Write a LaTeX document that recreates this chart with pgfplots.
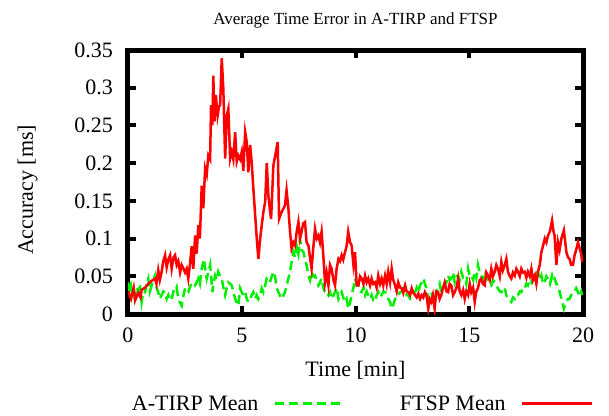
\documentclass[border=0pt]{standalone}
\usepackage{fontspec}
\setmainfont{Liberation Serif}
\usepackage{pgfplots}
\pgfplotsset{compat=1.18}
\definecolor{gnured}{RGB}{255,0,0}
\definecolor{gnugreen}{RGB}{0,238,0}
\pgfplotstableread{
t v
0.00 0.030
0.13 0.020
0.25 0.035
0.31 0.018
0.45 0.028
0.55 0.022
0.60 0.032
0.75 0.035
0.89 0.040
1.04 0.044
1.19 0.047
1.25 0.040
1.33 0.058
1.40 0.045
1.48 0.056
1.55 0.070
1.63 0.078
1.70 0.062
1.77 0.072
1.85 0.078
1.92 0.060
2.00 0.075
2.07 0.078
2.14 0.065
2.21 0.070
2.29 0.055
2.36 0.065
2.44 0.060
2.51 0.055
2.58 0.060
2.65 0.047
2.72 0.065
2.80 0.090
2.87 0.060
2.95 0.104
3.02 0.080
3.09 0.118
3.16 0.100
3.24 0.170
3.31 0.140
3.39 0.193
3.46 0.185
3.53 0.210
3.61 0.205
3.65 0.277
3.71 0.250
3.75 0.316
3.80 0.255
3.86 0.290
3.94 0.263
4.00 0.275
4.05 0.277
4.12 0.339
4.19 0.299
4.27 0.206
4.34 0.263
4.41 0.272
4.49 0.206
4.56 0.215
4.63 0.205
4.71 0.241
4.78 0.202
4.85 0.210
4.93 0.205
5.00 0.215
5.07 0.190
5.15 0.241
5.22 0.228
5.29 0.188
5.37 0.224
5.44 0.200
5.51 0.166
5.59 0.131
5.66 0.100
5.73 0.073
5.81 0.100
5.88 0.118
5.95 0.135
6.03 0.149
6.10 0.200
6.17 0.157
6.23 0.140
6.29 0.126
6.39 0.197
6.47 0.210
6.58 0.228
6.64 0.126
6.75 0.135
6.90 0.144
6.97 0.164
7.05 0.140
7.12 0.110
7.19 0.087
7.27 0.095
7.34 0.091
7.42 0.110
7.49 0.122
7.56 0.100
7.63 0.109
7.70 0.120
7.78 0.122
7.85 0.095
7.93 0.091
8.00 0.075
8.07 0.060
8.15 0.090
8.22 0.113
8.30 0.100
8.37 0.104
8.44 0.095
8.51 0.109
8.58 0.080
8.66 0.042
8.73 0.055
8.81 0.038
8.88 0.065
8.95 0.060
9.03 0.045
9.10 0.038
9.17 0.060
9.25 0.073
9.32 0.070
9.39 0.078
9.46 0.072
9.54 0.082
9.61 0.090
9.68 0.109
9.76 0.095
9.83 0.091
9.91 0.065
9.98 0.082
10.05 0.038
10.13 0.038
10.20 0.050
10.27 0.047
10.35 0.040
10.42 0.051
10.49 0.042
10.56 0.047
10.64 0.038
10.71 0.047
10.78 0.040
10.86 0.042
10.93 0.035
11.00 0.051
11.08 0.040
11.15 0.047
11.22 0.038
11.30 0.051
11.37 0.040
11.44 0.056
11.52 0.042
11.59 0.060
11.66 0.045
11.74 0.038
11.81 0.030
11.88 0.042
11.96 0.035
12.03 0.034
12.10 0.028
12.18 0.038
12.25 0.030
12.32 0.029
12.40 0.025
12.47 0.034
12.54 0.028
12.62 0.025
12.69 0.022
12.76 0.027
12.84 0.020
12.91 0.025
12.98 0.022
13.05 0.029
13.12 0.025
13.20 0.007
13.26 0.020
13.33 0.016
13.40 0.025
13.48 0.007
13.55 0.030
13.63 0.029
13.70 0.020
13.77 0.025
13.85 0.035
13.92 0.042
14.00 0.030
14.07 0.029
14.14 0.040
14.21 0.038
14.29 0.025
14.36 0.029
14.44 0.035
14.51 0.047
14.58 0.030
14.65 0.025
14.73 0.032
14.80 0.020
14.87 0.030
14.95 0.025
15.02 0.040
15.09 0.029
15.17 0.035
15.24 0.016
15.31 0.030
15.38 0.034
15.46 0.045
15.53 0.047
15.60 0.040
15.68 0.038
15.75 0.055
15.82 0.051
15.90 0.045
15.97 0.060
16.04 0.050
16.12 0.056
16.19 0.065
16.26 0.060
16.34 0.050
16.41 0.069
16.48 0.058
16.56 0.065
16.63 0.073
16.70 0.056
16.78 0.050
16.85 0.047
16.92 0.055
17.00 0.051
17.07 0.060
17.14 0.056
17.22 0.050
17.29 0.060
17.36 0.055
17.44 0.056
17.51 0.048
17.58 0.056
17.66 0.050
17.73 0.060
17.80 0.045
17.88 0.051
17.95 0.040
18.02 0.056
18.10 0.065
18.17 0.082
18.24 0.090
18.32 0.100
18.39 0.095
18.46 0.104
18.55 0.110
18.64 0.124
18.70 0.110
18.75 0.104
18.83 0.065
18.90 0.095
18.97 0.085
19.05 0.100
19.16 0.111
19.22 0.095
19.27 0.082
19.34 0.075
19.41 0.073
19.48 0.065
19.56 0.065
19.63 0.078
19.70 0.085
19.78 0.095
19.85 0.087
19.92 0.080
19.96 0.069
}\ftsp
\pgfplotstableread{
t v
0.00 0.042
0.06 0.030
0.13 0.038
0.20 0.025
0.31 0.020
0.38 0.035
0.45 0.029
0.52 0.040
0.60 0.016
0.67 0.030
0.75 0.029
0.82 0.040
0.89 0.047
0.96 0.030
1.04 0.038
1.11 0.045
1.19 0.051
1.26 0.035
1.33 0.029
1.40 0.020
1.48 0.025
1.55 0.030
1.63 0.029
1.70 0.020
1.77 0.025
1.85 0.018
1.92 0.020
2.00 0.030
2.07 0.029
2.14 0.035
2.21 0.020
2.29 0.015
2.36 0.011
2.44 0.025
2.51 0.034
2.58 0.030
2.65 0.029
2.72 0.035
2.80 0.042
2.87 0.040
2.95 0.038
3.02 0.042
3.09 0.047
3.16 0.040
3.24 0.060
3.34 0.073
3.39 0.060
3.46 0.047
3.53 0.055
3.61 0.065
3.71 0.029
3.75 0.040
3.83 0.051
3.90 0.045
3.97 0.056
4.05 0.050
4.12 0.047
4.19 0.035
4.27 0.025
4.34 0.035
4.41 0.042
4.49 0.040
4.56 0.038
4.63 0.030
4.71 0.020
4.78 0.015
4.85 0.011
4.93 0.034
5.00 0.029
5.07 0.025
5.15 0.029
5.22 0.020
5.29 0.016
5.37 0.020
5.44 0.025
5.51 0.029
5.59 0.020
5.66 0.025
5.73 0.020
5.81 0.025
5.88 0.034
5.95 0.029
6.03 0.038
6.10 0.047
6.17 0.045
6.24 0.042
6.32 0.050
6.39 0.056
6.46 0.051
6.53 0.035
6.61 0.029
6.75 0.020
6.90 0.029
7.05 0.047
7.12 0.055
7.19 0.069
7.27 0.082
7.34 0.075
7.41 0.091
7.49 0.080
7.56 0.100
7.63 0.085
7.71 0.082
7.78 0.073
7.85 0.065
7.93 0.051
8.00 0.045
8.07 0.056
8.15 0.050
8.22 0.051
8.29 0.045
8.37 0.038
8.44 0.042
8.51 0.047
8.58 0.035
8.66 0.029
8.73 0.030
8.81 0.025
8.88 0.029
8.95 0.020
9.03 0.025
9.10 0.029
9.17 0.035
9.25 0.020
9.32 0.025
9.39 0.029
9.46 0.022
9.54 0.016
9.61 0.020
9.68 0.007
9.76 0.015
9.83 0.025
9.91 0.035
9.98 0.047
10.05 0.040
10.13 0.038
10.20 0.030
10.27 0.029
10.35 0.035
10.42 0.025
10.49 0.030
10.56 0.025
10.64 0.020
10.71 0.025
10.78 0.018
10.86 0.016
10.93 0.025
11.00 0.029
11.08 0.022
11.15 0.025
11.22 0.030
11.30 0.029
11.37 0.025
11.44 0.020
11.52 0.016
11.59 0.007
11.66 0.012
11.74 0.020
11.81 0.025
11.88 0.025
11.96 0.029
12.03 0.030
12.10 0.034
12.18 0.030
12.25 0.025
12.32 0.025
12.40 0.020
12.47 0.020
12.54 0.025
12.62 0.029
12.69 0.035
12.76 0.029
12.84 0.038
12.91 0.042
12.98 0.047
13.05 0.040
13.12 0.034
13.19 0.020
13.26 0.025
13.33 0.029
13.40 0.020
13.48 0.016
13.55 0.030
13.63 0.034
13.70 0.040
13.77 0.029
13.85 0.035
13.92 0.038
14.00 0.042
14.07 0.051
14.14 0.045
14.21 0.047
14.29 0.055
14.36 0.042
14.44 0.050
14.51 0.051
14.58 0.045
14.65 0.056
14.73 0.048
14.80 0.047
14.87 0.040
14.95 0.060
15.02 0.050
15.09 0.051
15.17 0.045
15.24 0.056
15.31 0.048
15.38 0.065
15.46 0.055
15.53 0.051
15.60 0.045
15.68 0.056
15.75 0.050
15.82 0.047
15.90 0.040
15.97 0.038
16.04 0.045
16.12 0.042
16.19 0.038
16.26 0.034
16.34 0.030
16.41 0.029
16.48 0.035
16.56 0.034
16.63 0.025
16.70 0.020
16.78 0.018
16.85 0.016
16.92 0.022
17.00 0.020
17.07 0.025
17.14 0.025
17.22 0.030
17.29 0.029
17.36 0.035
17.44 0.034
17.51 0.040
17.58 0.038
17.66 0.045
17.73 0.042
17.80 0.050
17.88 0.047
17.95 0.055
18.02 0.056
18.10 0.045
18.17 0.051
18.24 0.040
18.32 0.042
18.39 0.050
18.46 0.047
18.55 0.040
18.64 0.051
18.70 0.045
18.75 0.047
18.83 0.040
18.90 0.038
18.97 0.030
19.05 0.020
19.12 0.012
19.16 0.007
19.22 0.012
19.27 0.016
19.34 0.020
19.41 0.020
19.48 0.025
19.56 0.029
19.63 0.030
19.70 0.034
19.78 0.029
19.85 0.025
19.92 0.030
19.96 0.025
}\atirp
\begin{document}
\begin{tikzpicture}
\path[use as bounding box] (-128pt,-101pt) rectangle (481pt,314pt);
\begin{axis}[
  at={(0pt,0pt)}, anchor=south west,
  scale only axis, width=455pt, height=264pt,
  xmin=0, xmax=20, ymin=0, ymax=0.35,
  xtick={0,5,10,15,20}, xticklabels={0,5,10,15,20},
  ytick={0,0.05,0.1,0.15,0.2,0.25,0.3,0.35},
  yticklabels={0,0.05,0.1,0.15,0.2,0.25,0.3,0.35},
  minor tick num=0,
  tick align=inside, major tick length=8pt,
  every tick/.style={black, line width=4pt},
  axis line style={line width=5pt, black},
  ticklabel style={font=\fontsize{22}{26}\selectfont},
  xticklabel style={anchor=north, inner sep=0pt, yshift=-14pt},
  yticklabel style={anchor=east, inner sep=0pt, xshift=-15pt},
  title={Average Time Error in A-TIRP and FTSP},
  every axis title/.style={font=\fontsize{17}{20}\selectfont, at={(axis description cs:0.5,1.0985)}, anchor=base},
  xlabel={Time [min]}, ylabel={Accuracy [ms]},
  every axis x label/.style={font=\fontsize{22}{26}\selectfont, at={(axis description cs:0.5,-0.2386)}, anchor=base},
  every axis y label/.style={font=\fontsize{22}{26}\selectfont, at={(axis description cs:-0.2088,0.47)}, rotate=90, anchor=base},
  legend plot pos=right,
  legend columns=2,
  legend image code/.code={\draw[#1] (0pt,0pt) -- (70pt,0pt);},
  legend style={draw=none, fill=none, inner sep=0pt, font=\fontsize{22}{26}\selectfont,
    at={(axis description cs:0.0081,-0.3083)}, anchor=north west,
    nodes={inner sep=0pt},
    /tikz/every odd column/.append style={column sep=15pt},
    /tikz/every even column/.append style={column sep=54pt}},
]
\addplot[gnugreen, line width=2.5pt, dash pattern=on 9pt off 5pt] table[x=t,y=v] {\atirp};
\addlegendentry{A-TIRP Mean}
\addplot[gnured, line width=2.5pt] table[x=t,y=v] {\ftsp};
\addlegendentry{FTSP Mean}
\end{axis}
\end{tikzpicture}
\end{document}
